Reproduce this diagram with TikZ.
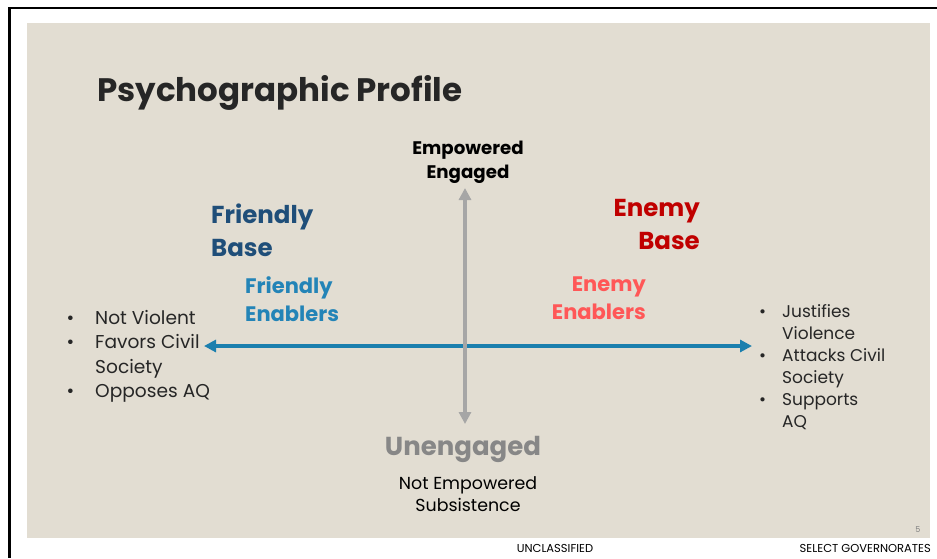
\documentclass[tikz,border=0pt]{standalone}
\usepackage{fontspec}
\setmainfont{Poppins}
\usepackage{tikz}
\usetikzlibrary{arrows.meta,positioning}
\usepackage{xcolor}
\definecolor{slidebg}{HTML}{E2DDD2}
\definecolor{titlegray}{HTML}{262626}
\definecolor{basedark}{HTML}{1F4E79}
\definecolor{enabblue}{HTML}{2384B7}
\definecolor{axisblue}{HTML}{1B7FAE}
\definecolor{basered}{HTML}{C00000}
\definecolor{enabred}{HTML}{FF5757}
\definecolor{axisgray}{HTML}{A6A6A6}
\definecolor{unengray}{HTML}{878787}
\newcommand{\fsz}[2]{\fontsize{#1}{#2}\selectfont}
\newcommand{\bul}[1][16pt]{\llap{\textbullet\hspace{#1}}}

\begin{document}
\begin{tikzpicture}[x=1pt, y=-1pt, every node/.style={inner sep=0pt, text=titlegray}]
\tikzset{
  basehead/.style={font=\bfseries\fsz{24.5}{33}, align=left},
  enabhead/.style={font=\bfseries\fsz{21}{28}, align=left},
  pointlist/.style={font=\fsz{18.6}{24.5}, align=left},
  footer/.style={font=\fsz{11.5}{13}, text=black},
  axis/.style={line width=4pt, {Triangle[length=12pt, width=12pt]}-{Triangle[length=12pt, width=12pt]}},
}
\useasboundingbox (0,0) rectangle (937,558);
% slide frame and background
\fill[white] (0,0) rectangle (937,558);
\fill[slidebg] (27,23) rectangle (930,538);
\draw[line width=2pt] (9.5,7.5) -- (937,7.5);
\draw[line width=2.5pt] (9.5,7) -- (9.5,558);

\node[font=\bfseries\fsz{32.5}{38}, anchor=base west] (title) at (97,101) {Psychographic Profile};

% axis labels
\node[font=\bfseries\fsz{18.2}{24}, align=center, text=black, anchor=north] (empowered) at (468,141) {Empowered\\Engaged};
\node[font=\bfseries\fsz{26}{30}, text=unengray, anchor=base] (unengaged) at (463,455) {Unengaged};
\node[font=\fsz{17.4}{22}, align=center, text=black, anchor=north] (notemp) at (468,476) {Not Empowered\\Subsistence};

% quadrant headings
\node[basehead, text=basedark, anchor=north west] (friendbase) at (211,204) {Friendly\\Base};
\node[basehead, text=basered, anchor=north east, align=right] (enemybase) at (700,199) {Enemy\\Base};
\node[enabhead, text=enabblue, anchor=north west] (friendenab) at (245,276) {Friendly\\Enablers};
\node[enabhead, text=enabred, anchor=north east, align=right] (enemyenab) at (646,277) {Enemy\\Enablers};

% attitude lists
\node[pointlist, anchor=north west] (friendlist) at (95,310) {\bul[21pt]Not Violent\\\bul[21pt]Favors Civil\\Society\\\bul[21pt]Opposes AQ};
\node[pointlist, font=\fsz{17}{22}, anchor=north west] (enemylist) at (782,304) {\bul Justifies\\Violence\\\bul Attacks Civil\\Society\\\bul Supports\\AQ};

% axes
\coordinate (hleft) at (204,346);
\coordinate (hright) at (752,346);
\coordinate (vtop) at (465,188);
\coordinate (vbot) at (465,424);
\draw[axis, axisblue] (hleft) -- (hright);
\draw[axis, axisgray] (vtop) -- (vbot);

% footer
\node[font=\fsz{8}{10}, text=gray, anchor=base] (pagenum) at (918,532) {5};
\node[footer, anchor=base] (classif) at (555,552) {UNCLASSIFIED};
\node[footer, anchor=base east] (govern) at (931,552) {SELECT GOVERNORATES};
\end{tikzpicture}
\end{document}
